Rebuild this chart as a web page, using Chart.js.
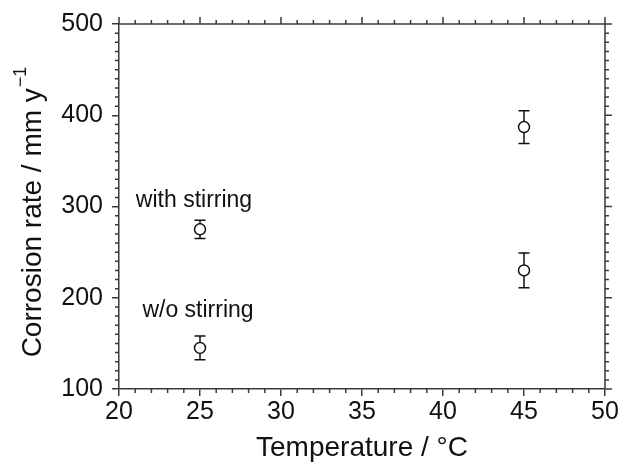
<!DOCTYPE html>
<html>
<head>
<meta charset="utf-8">
<script src="https://cdn.jsdelivr.net/npm/chart.js@4.4.1/dist/chart.umd.min.js"></script>
<style>
  html, body { margin: 0; padding: 0; background: #fff; }
  canvas { display: block; }
</style>
</head>
<body>
<canvas id="chart" width="632" height="462"></canvas>
<script>
// data
const temps = [25, 45];
const withStirring = [275, 387];
const withStirringErr = [10, 18];
const withoutStirring = [145, 230];
const withoutStirringErr = [13, 19];
const xTicks = [20, 25, 30, 35, 40, 45, 50];
const yTicks = [100, 200, 300, 400, 500];

const AXIS = '#3a3a3a';
const TEXT = '#111';
const FONT = "'Liberation Sans', Arial, sans-serif";

// error bars, minor ticks, top/right frame, y title, annotations
const decor = {
    id: 'decor',
    beforeDatasetsDraw(chart) {
        const ctx = chart.ctx;
        const x = chart.scales.x, y = chart.scales.y;
        const sets = [[withStirring, withStirringErr], [withoutStirring, withoutStirringErr]];
        ctx.save();
        ctx.strokeStyle = '#111';
        ctx.lineWidth = 1.5;
        sets.forEach(function (s) {
            temps.forEach(function (t, i) {
                const px = x.getPixelForValue(t);
                const top = y.getPixelForValue(s[0][i] + s[1][i]);
                const bot = y.getPixelForValue(s[0][i] - s[1][i]);
                ctx.beginPath();
                ctx.moveTo(px, top); ctx.lineTo(px, bot);
                ctx.moveTo(px - 5.5, top); ctx.lineTo(px + 5.5, top);
                ctx.moveTo(px - 5.5, bot); ctx.lineTo(px + 5.5, bot);
                ctx.stroke();
            });
        });
        ctx.restore();
    },
    afterDraw(chart) {
        const ctx = chart.ctx;
        const a = chart.chartArea;
        const x = chart.scales.x, y = chart.scales.y;
        ctx.save();
        ctx.strokeStyle = AXIS;
        ctx.lineWidth = 1.5;
        ctx.beginPath();
        // top and right frame
        ctx.moveTo(a.left, a.top); ctx.lineTo(a.right, a.top);
        ctx.moveTo(a.right, a.top); ctx.lineTo(a.right, a.bottom);
        // x ticks (minor on bottom, all on top)
        for (let v = 20; v <= 50; v++) {
            const px = x.getPixelForValue(v);
            const len = (v % 5 === 0) ? 7 : 4;
            if (v % 5 !== 0) { ctx.moveTo(px, a.bottom); ctx.lineTo(px, a.bottom + len); }
            ctx.moveTo(px, a.top); ctx.lineTo(px, a.top - len);
        }
        // y ticks
        for (let v = 100; v <= 500; v += 10) {
            const py = y.getPixelForValue(v);
            const len = (v % 100 === 0) ? 7 : 4;
            if (v % 100 !== 0) { ctx.moveTo(a.left, py); ctx.lineTo(a.left - len, py); }
            ctx.moveTo(a.right, py); ctx.lineTo(a.right + len, py);
        }
        ctx.stroke();

        // y axis title with superscript
        ctx.fillStyle = TEXT;
        ctx.translate(33, (a.top + a.bottom) / 2 + 6);
        ctx.rotate(-Math.PI / 2);
        const main = 'Corrosion rate / mm y';
        const sup = '\u22121';
        ctx.font = '18px ' + FONT;
        const supW = ctx.measureText(sup).width;
        ctx.font = '28px ' + FONT;
        const mainW = ctx.measureText(main).width;
        const start = -(mainW + supW) / 2;
        ctx.textBaseline = 'middle';
        ctx.textAlign = 'left';
        ctx.fillText(main, start, 0);
        ctx.font = '18px ' + FONT;
        ctx.fillText(sup, start + mainW + 1, -12);
        ctx.restore();

        // annotations
        ctx.save();
        ctx.fillStyle = TEXT;
        ctx.font = '23px ' + FONT;
        ctx.textAlign = 'center';
        ctx.textBaseline = 'alphabetic';
        const p25 = x.getPixelForValue(temps[0]);
        ctx.fillText('with stirring', p25 - 6, y.getPixelForValue(299));
        ctx.fillText('w/o stirring', p25 - 2, y.getPixelForValue(179));
        ctx.restore();
    }
};

const pointStyle = {
    showLine: false,
    pointRadius: 5.5,
    pointHoverRadius: 5.5,
    pointBackgroundColor: '#fff',
    pointBorderColor: '#111',
    pointBorderWidth: 1.5
};

new Chart(document.getElementById('chart'), {
    type: 'scatter',
    data: {
        datasets: [
            Object.assign({ label: 'with stirring', data: temps.map(function (t, i) { return { x: t, y: withStirring[i] }; }) }, pointStyle),
            Object.assign({ label: 'w/o stirring', data: temps.map(function (t, i) { return { x: t, y: withoutStirring[i] }; }) }, pointStyle)
        ]
    },
    options: {
        responsive: false,
        animation: false,
        devicePixelRatio: 1,
        layout: { padding: { top: 23, right: 27, left: 0, bottom: 0 } },
        plugins: { legend: { display: false }, tooltip: { enabled: false } },
        scales: {
            x: {
                type: 'linear',
                min: 20, max: 50,
                afterBuildTicks: function (s) { s.ticks = xTicks.map(function (v) { return { value: v }; }); },
                afterFit: function (s) { s.height = 73; },
                ticks: { font: { size: 25, family: FONT }, color: TEXT, padding: 1, maxRotation: 0 },
                grid: { display: true, drawOnChartArea: false, drawTicks: true, tickLength: 7, color: AXIS, lineWidth: 1.5 },
                border: { display: true, color: AXIS, width: 1.5 },
                title: { display: true, text: 'Temperature / \u00b0C', font: { size: 28, family: FONT, lineHeight: 1.0 }, color: TEXT, padding: { top: 0, bottom: 0 } }
            },
            y: {
                type: 'linear',
                min: 100, max: 500,
                afterBuildTicks: function (s) { s.ticks = yTicks.map(function (v) { return { value: v }; }); },
                afterFit: function (s) { s.width = 119; },
                ticks: { font: { size: 25, family: FONT }, color: TEXT, padding: 9 },
                grid: { display: true, drawOnChartArea: false, drawTicks: true, tickLength: 7, color: AXIS, lineWidth: 1.5 },
                border: { display: true, color: AXIS, width: 1.5 }
            }
        }
    },
    plugins: [decor]
});
</script>
</body>
</html>
